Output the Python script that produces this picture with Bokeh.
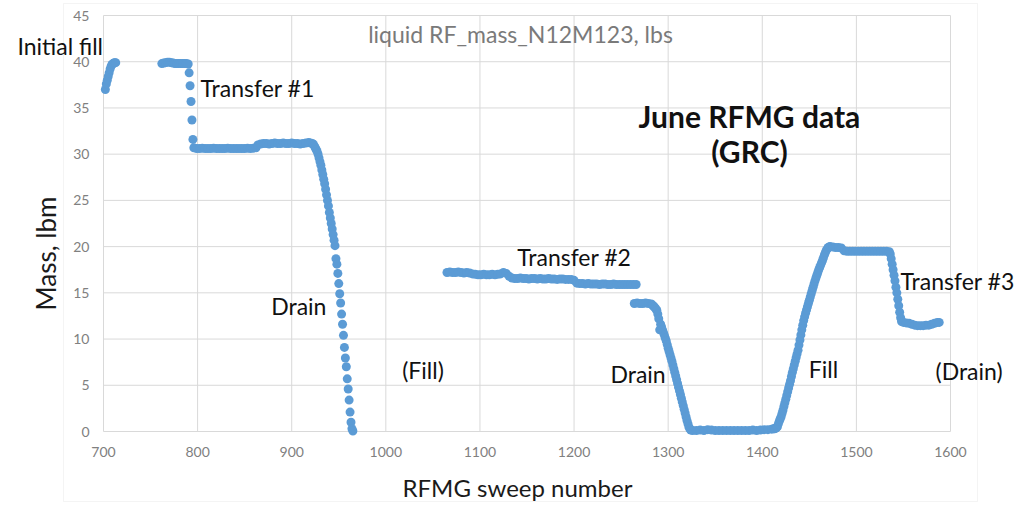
from bokeh.plotting import figure
from bokeh.models import Label, BoxAnnotation, Range1d, FixedTicker, LinearAxis
from bokeh.embed import file_html
from bokeh.resources import INLINE

# ---------------- data (sweep number, liquid mass lbm) ----------------
sweep_initial = [702, 703, 704, 705, 706, 707, 708, 709, 710, 711, 712, 713]
mass_initial = [37.0, 37.6, 38.0, 38.4, 38.8, 39.2, 39.5, 39.7, 39.8, 39.85, 39.9, 39.9]

sweep_first = [762, 764, 766, 768, 770, 772, 774, 776, 778, 780, 782, 784, 786, 788, 790,
               791, 792, 793, 794, 795, 796,
               799, 802, 805, 808, 811, 814, 817, 820, 823, 826, 829, 832, 835, 838, 841,
               844, 847, 850, 853, 856, 859, 862,
               864, 867, 870, 873, 876, 879, 882, 885, 888, 891, 894, 897, 900, 903, 906,
               909, 912, 915, 918, 920,
               922, 923, 924, 925, 926, 927, 928, 929, 930, 931, 932, 933, 934, 935, 936,
               937, 938, 939, 940, 941, 942, 943, 944, 945, 946, 947, 948, 949, 950, 951,
               952, 953, 954, 955, 956, 957, 958, 959, 960, 961, 962, 963, 964, 965]
mass_first = [39.8, 39.85, 39.9, 39.95, 39.95, 39.9, 39.85, 39.8, 39.8, 39.8, 39.8, 39.8, 39.8, 39.8, 39.75,
              38.8, 37.4, 35.7, 33.7, 31.6, 30.7,
              30.6, 30.6, 30.65, 30.6, 30.6, 30.6, 30.65, 30.6, 30.6, 30.6, 30.6, 30.65, 30.6, 30.6, 30.6,
              30.6, 30.6, 30.6, 30.65, 30.6, 30.65, 30.7,
              31.0, 31.1, 31.15, 31.15, 31.1, 31.15, 31.2, 31.15, 31.15, 31.2, 31.15, 31.15, 31.2, 31.15, 31.15,
              31.1, 31.15, 31.2, 31.25, 31.2,
              31.15, 31.05, 30.9, 30.7, 30.5, 30.3, 30.0, 29.6, 29.2, 28.8, 28.3, 27.8, 27.3, 26.8, 26.2,
              25.6, 25.0, 24.4, 23.7, 23.1, 22.5, 21.9, 21.3, 20.7, 20.1, 18.7, 18.1, 17.1, 16.0, 14.9,
              13.9, 12.7, 11.6, 10.4, 9.1, 7.95, 7.0, 5.7, 4.6, 3.4, 2.1, 1.0, 0.3, 0.05]

sweep_second = [1065, 1068, 1071, 1074, 1077, 1080, 1083, 1086, 1089, 1092, 1095, 1098, 1101, 1104,
                1107, 1110, 1113, 1116, 1119, 1122, 1125, 1128, 1131,
                1134, 1137, 1140, 1143, 1146, 1149, 1152, 1155, 1158, 1161, 1164, 1167, 1170, 1173,
                1176, 1179, 1182, 1185, 1188, 1191, 1194, 1197, 1200,
                1203, 1206, 1209, 1212, 1215, 1218, 1221, 1224, 1227, 1230, 1233, 1236, 1239, 1242,
                1245, 1248, 1251, 1254, 1257, 1260, 1263, 1266]
mass_second = [17.2, 17.25, 17.2, 17.2, 17.25, 17.2, 17.15, 17.2, 17.15, 17.05, 17.0, 16.95, 16.95, 17.0,
               16.95, 16.95, 17.0, 16.95, 17.0, 17.05, 17.2, 17.1, 16.8,
               16.6, 16.55, 16.55, 16.6, 16.55, 16.55, 16.5, 16.55, 16.55, 16.5, 16.55, 16.5, 16.5, 16.55,
               16.5, 16.5, 16.45, 16.5, 16.5, 16.45, 16.45, 16.45, 16.35,
               16.05, 16.0, 16.0, 15.95, 16.0, 15.95, 15.95, 15.95, 15.9, 15.95, 15.95, 15.9, 15.9, 15.95,
               15.9, 15.9, 15.9, 15.9, 15.9, 15.9, 15.9, 15.9]

sweep_third = [1264, 1267, 1270, 1273, 1276, 1279, 1282, 1283, 1284, 1285, 1286, 1287, 1288, 1289,
               1290, 1291, 1292, 1293, 1294, 1295, 1296, 1297, 1298, 1299, 1300, 1301, 1302, 1303,
               1304, 1305, 1306, 1307, 1308, 1309, 1310, 1311, 1312, 1313, 1314, 1315, 1316, 1317,
               1318, 1319, 1320, 1321, 1322, 1323, 1324,
               1326, 1330, 1334, 1338, 1342, 1346, 1350, 1354, 1358, 1362, 1366, 1370, 1374, 1378,
               1382, 1386, 1390, 1394, 1398, 1402, 1406, 1410,
               1412, 1413, 1414, 1415, 1416, 1417, 1418, 1419, 1420, 1421, 1422, 1423, 1424, 1425,
               1426, 1427, 1428, 1429, 1430, 1431, 1432, 1433, 1434, 1435, 1436, 1437, 1438, 1439,
               1440, 1441, 1442, 1443, 1444, 1445, 1446, 1447, 1448, 1449, 1450, 1451, 1452, 1453,
               1454, 1455, 1456, 1457, 1458, 1459, 1460, 1461, 1462, 1463, 1464, 1465, 1466, 1467,
               1468, 1469, 1470, 1471, 1472,
               1475, 1478, 1481, 1484, 1487, 1490, 1493, 1496, 1499, 1502, 1505, 1508, 1511, 1514,
               1517, 1520, 1523, 1526, 1529, 1532, 1535,
               1536, 1537, 1538, 1539, 1540, 1541, 1542, 1543, 1544, 1545, 1546, 1547, 1548,
               1550, 1553, 1556, 1559, 1562, 1565, 1568, 1571, 1574, 1577, 1580, 1583, 1586, 1588]
mass_third = [13.85, 13.9, 13.85, 13.85, 13.9, 13.85, 13.8, 13.7, 13.6, 13.5, 13.4, 13.25, 13.1, 12.7,
              12.2, 11.0, 11.6, 11.3, 11.0, 10.7, 10.4, 10.1, 9.8, 9.4, 9.0, 8.65, 8.3, 7.95,
              7.6, 7.2, 6.8, 6.4, 6.0, 5.6, 5.2, 4.8, 4.4, 4.0, 3.6, 3.2, 2.8, 2.4,
              2.0, 1.6, 1.2, 0.85, 0.5, 0.3, 0.15,
              0.1, 0.1, 0.15, 0.1, 0.2, 0.15, 0.1, 0.1, 0.1, 0.1, 0.1, 0.1, 0.1, 0.1,
              0.1, 0.1, 0.15, 0.1, 0.15, 0.2, 0.2, 0.25,
              0.3, 0.3, 0.35, 0.4, 0.5, 0.8, 1.1, 1.35, 1.6, 1.95, 2.3, 2.7, 3.1, 3.5,
              3.9, 4.3, 4.7, 5.1, 5.5, 5.95, 6.4, 6.8, 7.2, 7.6, 8.0, 8.4, 8.8, 9.35,
              9.9, 10.45, 11.0, 11.5, 12.0, 12.4, 12.8, 13.15, 13.5, 13.85, 14.2, 14.55, 14.9, 15.25,
              15.6, 15.95, 16.3, 16.6, 16.9, 17.2, 17.5, 17.75, 18.0, 18.25, 18.5, 18.8, 19.1, 19.35,
              19.6, 19.75, 19.9, 19.95, 20.0,
              19.95, 19.9, 19.9, 19.85, 19.55, 19.5, 19.5, 19.5, 19.5, 19.5, 19.5, 19.5, 19.5, 19.5,
              19.5, 19.5, 19.5, 19.5, 19.5, 19.5, 19.45,
              19.2, 18.7, 18.1, 17.5, 16.9, 16.3, 15.6, 15.0, 14.3, 13.6, 12.9, 12.3, 11.9,
              11.8, 11.75, 11.7, 11.6, 11.5, 11.45, 11.45, 11.45, 11.5, 11.5, 11.6, 11.7, 11.8, 11.8]

x_ticks = [700, 800, 900, 1000, 1100, 1200, 1300, 1400, 1500, 1600]
y_ticks = [0, 5, 10, 15, 20, 25, 30, 35, 40, 45]

chart_title = "liquid RF_mass_N12M123, lbs"
x_title = "RFMG sweep number"
y_title = "Mass, lbm"

# annotation texts, anchored at (sweep, mass) = left end of baseline
notes = [
    ("Initial fill", 608.6, 41.72),
    ("Transfer #1", 803.1, 37.15),
    ("Transfer #2", 1139.6, 18.9),
    ("Drain", 878.2, 13.6),
    ("(Fill)", 1017.4, 6.64),
    ("Drain", 1238.7, 6.27),
    ("Fill", 1449.4, 6.75),
    ("Transfer #3", 1546.9, 16.3),
    ("(Drain)", 1584.1, 6.57),
]
box_lines = [("June RFMG data", 1386.4, 34.15), ("(GRC)", 1386.4, 30.35)]

BLUE = "#5b9bd5"
GRID = "#d9d9d9"
FONT = "Lato"

X0, X1 = x_ticks[0], x_ticks[-1]
Y0, Y1 = y_ticks[0], y_ticks[-1]

# The frame fills the whole canvas so that the annotations outside the plot
# area are not clipped; the plot area (700..1600, 0..45) sits inside it.
p = figure(width=1034, height=506,
           x_range=Range1d(590.56, 1689.26), y_range=Range1d(-8.113, 46.623),
           output_backend="svg", toolbar_location=None,
           x_axis_location=None, y_axis_location=None,
           min_border=0, min_border_left=0, min_border_right=0,
           min_border_top=0, min_border_bottom=0)
p.background_fill_color = "white"
p.border_fill_color = "white"
p.outline_line_color = None
p.xgrid.visible = False
p.ygrid.visible = False

# grid lines of the plot area
n_x = len(x_ticks)
n_y = len(y_ticks)
p.segment(x0=x_ticks, y0=[Y0] * n_x, x1=x_ticks, y1=[Y1] * n_x, line_color=GRID, line_width=1)
p.segment(x0=[X0] * n_y, y0=y_ticks, x1=[X1] * n_y, y1=y_ticks, line_color=GRID, line_width=1)

xaxis = LinearAxis(fixed_location=Y0, ticker=FixedTicker(ticks=x_ticks), axis_label=x_title)
yaxis = LinearAxis(fixed_location=X0, ticker=FixedTicker(ticks=y_ticks), axis_label=y_title)
for ax in (xaxis, yaxis):
    ax.axis_line_color = None
    ax.major_tick_line_color = None
    ax.minor_tick_line_color = None
    ax.major_label_text_font = FONT
    ax.major_label_text_font_size = "14px"
    ax.major_label_text_color = "#808080"
    ax.axis_label_text_font = FONT
    ax.axis_label_text_font_style = "normal"
    ax.axis_label_text_color = "#1a1a1a"
xaxis.major_label_standoff = 9
xaxis.axis_label_standoff = 13
xaxis.axis_label_text_font_size = "24px"
yaxis.major_label_standoff = 8
yaxis.axis_label_standoff = 8
yaxis.axis_label_text_font_size = "26px"
p.add_layout(xaxis, "below")
p.add_layout(yaxis, "left")

sweeps = sweep_initial + sweep_first + sweep_second + sweep_third
masses = mass_initial + mass_first + mass_second + mass_third
p.scatter(sweeps, masses, size=9, fill_color=BLUE, line_color=None)

# outer chart-area border
p.add_layout(BoxAnnotation(left=63, right=977, top=5, bottom=503,
                           left_units="screen", right_units="screen",
                           top_units="screen", bottom_units="screen",
                           fill_color=None, fill_alpha=0, line_color=GRID, line_width=1,
                           level="underlay"))

p.add_layout(Label(x=1143.1, y=43.05, text=chart_title, text_align="center",
                   text_baseline="alphabetic", text_font=FONT, text_font_size="23px",
                   text_color="#7a7a7a"))

for t, xx, yy in notes:
    p.add_layout(Label(x=xx, y=yy, text=t, text_align="left", text_baseline="alphabetic",
                       text_font=FONT, text_font_size="23px", text_color="#111111"))

for t, xx, yy in box_lines:
    p.add_layout(Label(x=xx, y=yy, text=t, text_align="center", text_baseline="alphabetic",
                       text_font=FONT, text_font_size="30px", text_font_style="bold",
                       text_color="#111111"))

open("out.html", "w").write(file_html(p, INLINE))
